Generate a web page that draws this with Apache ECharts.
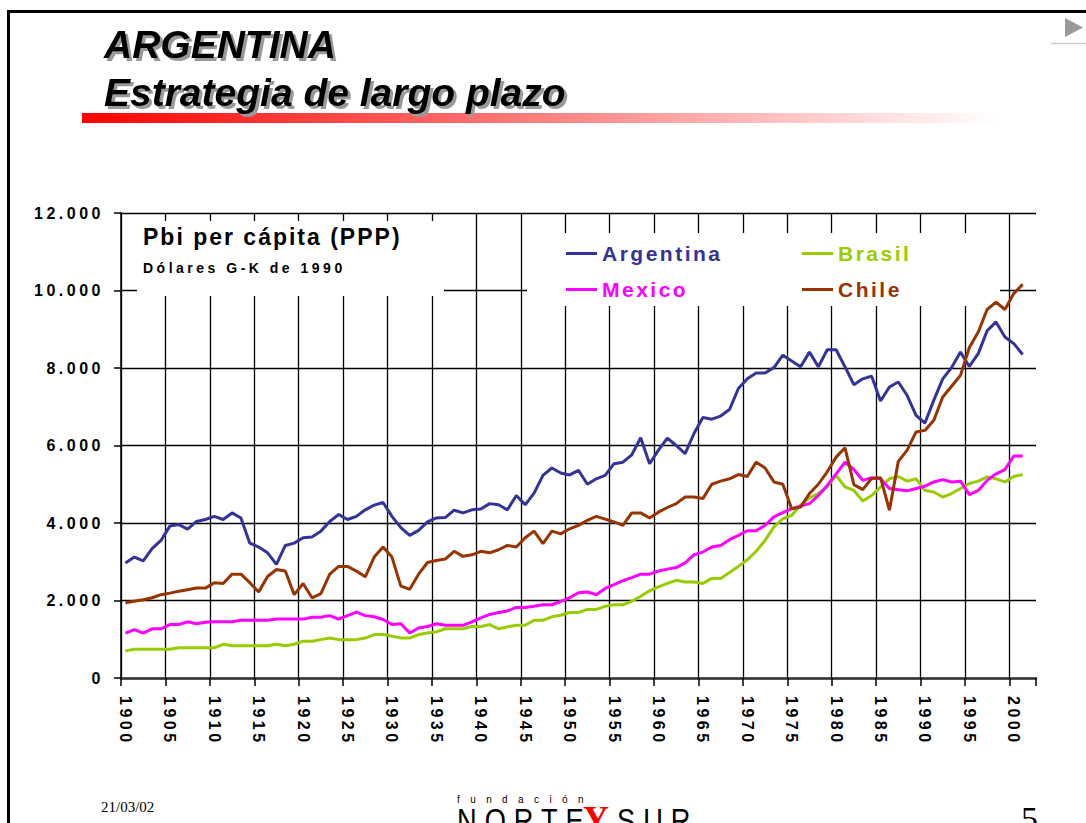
<!DOCTYPE html>
<html>
<head>
<meta charset="utf-8">
<script src="https://cdn.jsdelivr.net/npm/echarts@6/dist/echarts.min.js"></script>
<style>
html, body { margin: 0; padding: 0; background: #ffffff; }
#chart { width: 1086px; height: 823px; }
text[style*="lsAx"] { letter-spacing: 3.5px; }
text[style*="lsLg"] { letter-spacing: 2.5px; }
text[style*="lsT1"] { letter-spacing: 2px; }
text[style*="lsT2"] { letter-spacing: 3.5px; }
text[style*="lsFu"] { letter-spacing: 10.4px; }
text[style*="lsNo"] { letter-spacing: 10px; }
text[style*="shTitle"] { filter: drop-shadow(3px 3px 0px #999999); }
</style>
</head>
<body>
<div id="chart"></div>
<script>
// ---------- data (Pbi per cápita, dólares G-K de 1990) ----------
const firstYear = 1900;
const lastCategoryYear = 2002;
const years = [];
for (let y = firstYear; y <= lastCategoryYear; y++) years.push(String(y));

const argentina = [
  2970, 3120, 3020, 3340, 3550, 3920, 3960, 3840, 4040, 4090,
  4170, 4090, 4260, 4130, 3480, 3380, 3230, 2930, 3420, 3480,
  3620, 3640, 3790, 4040, 4220, 4090, 4170, 4340, 4460, 4530,
  4170, 3880, 3680, 3810, 4030, 4130, 4140, 4330, 4260, 4340,
  4360, 4500, 4470, 4340, 4710, 4470, 4770, 5230, 5420, 5290,
  5240, 5360, 5000, 5140, 5230, 5530, 5570, 5760, 6200, 5530,
  5880, 6190, 6000, 5790, 6310, 6720, 6680, 6760, 6930, 7470,
  7720, 7870, 7870, 8010, 8330, 8180, 8030, 8410, 8030, 8470,
  8470, 8030, 7570, 7720, 7790, 7150, 7510, 7640, 7290, 6780,
  6580, 7170, 7720, 8010, 8410, 8040, 8370, 8960, 9190, 8800,
  8630, 8350
];
const brasil = [
  700, 740, 740, 740, 740, 740, 780, 780, 780, 780,
  780, 870, 830, 830, 830, 830, 830, 870, 830, 870,
  950, 950, 990, 1030, 990, 990, 990, 1030, 1120, 1120,
  1080, 1030, 1030, 1120, 1160, 1190, 1270, 1270, 1270, 1330,
  1330, 1380, 1270, 1320, 1360, 1360, 1490, 1490, 1580, 1620,
  1690, 1690, 1770, 1770, 1850, 1890, 1890, 1980, 2110, 2250,
  2350, 2440, 2520, 2480, 2480, 2440, 2570, 2570, 2720, 2880,
  3050, 3270, 3550, 3900, 4110, 4200, 4460, 4650, 4760, 4930,
  5230, 4930, 4840, 4570, 4710, 4930, 5140, 5200, 5080, 5140,
  4840, 4800, 4670, 4760, 4890, 5020, 5080, 5190, 5140, 5060,
  5200, 5250
];
const mexico = [
  1160, 1250, 1160, 1270, 1270, 1380, 1380, 1450, 1400, 1440,
  1450, 1450, 1450, 1490, 1490, 1490, 1490, 1520, 1520, 1520,
  1520, 1570, 1570, 1610, 1520, 1610, 1700, 1610, 1580, 1510,
  1380, 1400, 1160, 1290, 1330, 1400, 1360, 1360, 1360, 1450,
  1550, 1640, 1690, 1730, 1820, 1820, 1850, 1890, 1890, 1980,
  2070, 2200, 2220, 2150, 2310, 2410, 2510, 2590, 2680, 2680,
  2760, 2810, 2850, 2970, 3180, 3250, 3380, 3420, 3570, 3680,
  3800, 3800, 3940, 4160, 4270, 4370, 4440, 4500, 4710, 4970,
  5270, 5570, 5380, 5100, 5170, 5140, 4890, 4860, 4830, 4890,
  4950, 5060, 5120, 5060, 5080, 4730, 4840, 5100, 5270, 5380,
  5730, 5730
];
const chile = [
  1940, 1980, 2020, 2070, 2150, 2190, 2240, 2280, 2320, 2320,
  2460, 2440, 2680, 2680, 2460, 2220, 2620, 2800, 2760, 2150,
  2440, 2070, 2180, 2680, 2880, 2880, 2760, 2610, 3120, 3380,
  3120, 2370, 2290, 2680, 2980, 3030, 3070, 3270, 3140, 3180,
  3270, 3230, 3310, 3420, 3380, 3620, 3790, 3470, 3790, 3720,
  3850, 3940, 4070, 4170, 4100, 4030, 3940, 4260, 4260, 4130,
  4280, 4400, 4500, 4670, 4670, 4630, 5000, 5080, 5140, 5250,
  5200, 5570, 5420, 5060, 5000, 4370, 4410, 4760, 5000, 5320,
  5700, 5940, 4990, 4860, 5150, 5170, 4330, 5590, 5880, 6350,
  6390, 6650, 7250, 7530, 7810, 8530, 8930, 9510, 9700, 9510,
  9920, 10160
];
const seriesNames = ['Argentina', 'Brasil', 'Mexico', 'Chile'];
const seriesColors = ['#333399', '#99cc00', '#ff00ff', '#993300'];
const yMin = 0, yMax = 12000, yStep = 2000;

const titleLine1 = 'ARGENTINA';
const titleLine2 = 'Estrategia de largo plazo';
const boxTitle = 'Pbi per cápita (PPP)';
const boxSubtitle = 'Dólares G-K de 1990';
const footerDate = '21/03/02';
const footerPage = '5';

// ---------- fonts ----------
const SANS = "'Liberation Sans', Arial, sans-serif";
const fam = tag => "'Liberation Sans', Arial, " + tag;

function thousands(v) {
  return String(v).replace(/\B(?=(\d{3})+(?!\d))/g, '.');
}

const seriesData = [argentina, brasil, mexico, chile];

const chart = echarts.init(document.getElementById('chart'), null, { renderer: 'svg' });

const option = {
  animation: false,
  backgroundColor: '#ffffff',
  textStyle: { fontFamily: SANS },
  grid: { left: 121, right: 50, top: 213, bottom: 145, containLabel: false },
  xAxis: {
    type: 'category',
    data: years,
    boundaryGap: true,
    axisLine: { show: true, lineStyle: { color: '#333333', width: 2.5 } },
    axisTick: { show: true, interval: 4, length: 8, lineStyle: { color: '#000000', width: 1.5 } },
    axisLabel: {
      interval: 4, rotate: -90, margin: 18,
      fontSize: 16, fontWeight: 'bold', fontFamily: fam('lsAx'), color: '#000000'
    },
    splitLine: { show: true, interval: 4, showMaxLine: false, lineStyle: { color: '#000000', width: 1.3 } }
  },
  yAxis: {
    type: 'value',
    min: yMin, max: yMax, interval: yStep,
    axisLine: { show: true, lineStyle: { color: '#000000', width: 1.5 } },
    axisTick: { show: true, length: 7, lineStyle: { color: '#000000', width: 1.5 } },
    axisLabel: {
      margin: 17, formatter: v => thousands(v),
      fontSize: 16, fontWeight: 'bold', fontFamily: fam('lsAx'), color: '#000000'
    },
    splitLine: { show: true, lineStyle: { color: '#000000', width: 1.3 } }
  },
  legend: [
    {
      data: [
        { name: seriesNames[0], textStyle: { color: seriesColors[0] } },
        { name: seriesNames[2], textStyle: { color: seriesColors[2] } }
      ],
      orient: 'vertical', left: 566, top: 243, padding: 0,
      itemWidth: 31, itemHeight: 3, itemGap: 15, icon: 'rect',
      selectedMode: false,
      textStyle: { fontSize: 21, fontWeight: 'bold', fontFamily: fam('lsLg') }
    },
    {
      data: [
        { name: seriesNames[1], textStyle: { color: seriesColors[1] } },
        { name: seriesNames[3], textStyle: { color: seriesColors[3] } }
      ],
      orient: 'vertical', left: 802, top: 243, padding: 0,
      itemWidth: 31, itemHeight: 3, itemGap: 15, icon: 'rect',
      selectedMode: false,
      textStyle: { fontSize: 21, fontWeight: 'bold', fontFamily: fam('lsLg') }
    }
  ],
  series: seriesNames.map((name, i) => ({
    name: name,
    type: 'line',
    data: seriesData[i],
    color: seriesColors[i],
    showSymbol: false,
    symbol: 'none',
    lineStyle: { width: 3, color: seriesColors[i] },
    z: 3
  })),
  graphic: [
    // slide frame
    { type: 'line', z: 10, shape: { x1: 8.5, y1: 10, x2: 8.5, y2: 823 }, style: { stroke: '#000000', lineWidth: 3 } },
    { type: 'line', z: 10, shape: { x1: 7, y1: 11.5, x2: 1086, y2: 11.5 }, style: { stroke: '#000000', lineWidth: 3 } },
    // next-slide arrow
    { type: 'polygon', z: 10, shape: { points: [[1065, 18], [1065, 37], [1083, 27.5]] }, style: { fill: '#999999' } },
    { type: 'line', z: 10, shape: { x1: 1051, y1: 43.5, x2: 1086, y2: 43.5 }, style: { stroke: '#cccccc', lineWidth: 1.5 } },
    // title
    {
      type: 'text', z: 10, x: 104, y: 44,
      style: {
        text: titleLine1, fill: '#000000', fontSize: 39, fontWeight: 'bold', fontStyle: 'italic',
        fontFamily: "'Liberation Sans', Arial, shTitle", align: 'left', verticalAlign: 'middle'
      }
    },
    {
      type: 'text', z: 10, x: 104, y: 92,
      style: {
        text: titleLine2, fill: '#000000', fontSize: 39, fontWeight: 'bold', fontStyle: 'italic',
        fontFamily: "'Liberation Sans', Arial, shTitle", align: 'left', verticalAlign: 'middle'
      }
    },
    {
      type: 'rect', z: 9, shape: { x: 82, y: 113, width: 916, height: 10 },
      style: {
        fill: { type: 'linear', x: 0, y: 0, x2: 1, y2: 0,
          colorStops: [{ offset: 0, color: '#ff0000' }, { offset: 1, color: '#ffffff' }] }
      }
    },
    // white boxes over the grid
    { type: 'rect', z: 1, shape: { x: 137, y: 221, width: 307, height: 75 }, style: { fill: '#ffffff' } },
    { type: 'rect', z: 1, shape: { x: 527, y: 233, width: 473, height: 73 }, style: { fill: '#ffffff' } },
    {
      type: 'text', z: 5, x: 143, y: 237,
      style: { text: boxTitle, fill: '#000000', fontSize: 23, fontWeight: 'bold', fontFamily: fam('lsT1'),
        align: 'left', verticalAlign: 'middle' }
    },
    {
      type: 'text', z: 5, x: 143, y: 268,
      style: { text: boxSubtitle, fill: '#000000', fontSize: 14, fontWeight: 'bold', fontFamily: fam('lsT2'),
        align: 'left', verticalAlign: 'middle' }
    },
    // footer
    {
      type: 'text', z: 10, x: 101, y: 807,
      style: { text: footerDate, fill: '#000000', fontSize: 15, fontFamily: "'Liberation Serif', 'Times New Roman', serif",
        align: 'left', verticalAlign: 'middle' }
    },
    {
      type: 'text', z: 10, x: 457, y: 799,
      style: { text: 'fundación', fill: '#000000', fontSize: 10, fontFamily: fam('lsFu'),
        align: 'left', verticalAlign: 'middle' }
    },
    {
      type: 'text', z: 10, x: 457, y: 820, scaleX: 0.8,
      style: { text: 'NORTE', fill: '#000000', fontSize: 34, fontFamily: "'Liberation Sans Narrow', 'Liberation Sans', lsNo",
        align: 'left', verticalAlign: 'middle' }
    },
    {
      type: 'text', z: 10, x: 583, y: 819,
      style: { text: 'Y', fill: '#ff0000', fontSize: 36, fontWeight: 'bold', fontFamily: "'Liberation Serif', serif",
        align: 'left', verticalAlign: 'middle' }
    },
    {
      type: 'text', z: 10, x: 617, y: 820, scaleX: 0.8,
      style: { text: 'SUR', fill: '#000000', fontSize: 34, fontFamily: "'Liberation Sans Narrow', 'Liberation Sans', lsNo",
        align: 'left', verticalAlign: 'middle' }
    },
    {
      type: 'text', z: 10, x: 1021, y: 818,
      style: { text: footerPage, fill: '#000000', fontSize: 34, fontFamily: "'Liberation Serif', 'Times New Roman', serif",
        align: 'left', verticalAlign: 'middle' }
    }
  ]
};

chart.setOption(option);
</script>
</body>
</html>
